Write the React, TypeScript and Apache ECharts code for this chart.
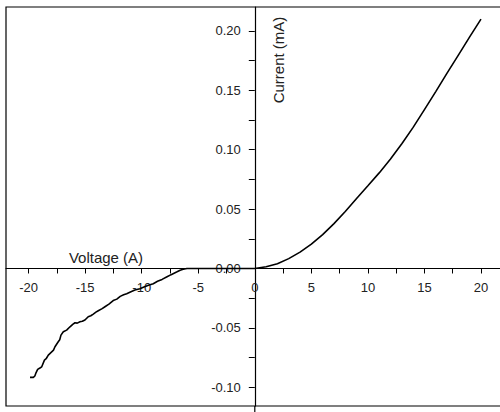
import React, { useEffect, useRef } from "react";
import * as echarts from "echarts";

// Voltage (V) vs current (mA), reverse branch (noisy)
const reverseBranch: [number, number][] = [
  [-19.88, -0.0917], [-19.58, -0.0917], [-19.45, -0.0905], [-19.37, -0.0884],
  [-19.2, -0.085], [-19.0, -0.0838], [-18.84, -0.0828], [-18.6, -0.0772],
  [-18.45, -0.076], [-18.26, -0.0729], [-17.96, -0.0702], [-17.8, -0.0688],
  [-17.67, -0.0659], [-17.38, -0.0617], [-17.25, -0.06], [-17.14, -0.0561],
  [-16.93, -0.0533], [-16.64, -0.0519], [-16.34, -0.0491], [-16.1, -0.047],
  [-15.9, -0.0457], [-15.7, -0.046], [-15.46, -0.0449], [-15.25, -0.0445],
  [-15.02, -0.0434], [-14.73, -0.0406], [-14.5, -0.0398], [-14.28, -0.0384],
  [-14.05, -0.0368], [-13.84, -0.0356], [-13.5, -0.0338], [-13.25, -0.0322],
  [-12.9, -0.03], [-12.52, -0.027], [-12.2, -0.0258], [-11.9, -0.0235],
  [-11.6, -0.0222], [-11.33, -0.0212], [-11.0, -0.0198], [-10.6, -0.0182],
  [-10.16, -0.017], [-9.8, -0.0155], [-9.4, -0.0142], [-8.98, -0.0128],
  [-8.6, -0.0108], [-8.2, -0.0092], [-7.8, -0.0072], [-7.4, -0.0052],
  [-6.92, -0.003], [-6.6, -0.0015], [-6.33, -0.0007], [-6.0, 0],
  [-5, 0], [-4, 0], [-3, 0], [-2, 0], [-1, 0],
];

// Forward branch
const forwardBranch: [number, number][] = [
  [0, 0], [1, 0.0015], [2, 0.004], [3, 0.0083], [4, 0.0138], [5, 0.0205],
  [6, 0.0285], [7, 0.0378], [8, 0.048], [9, 0.059], [10, 0.0697],
  [11, 0.0805], [12, 0.0922], [13, 0.105], [14, 0.1188], [15, 0.1338],
  [16, 0.149], [17, 0.1645], [18, 0.1797], [19, 0.195], [20, 0.21],
];

const xTickValues = [-20, -17.5, -15, -12.5, -10, -7.5, -5, -2.5, 0, 2.5, 5, 7.5, 10, 12.5, 15, 17.5, 20];
const xLabelValues = [-20, -15, -10, -5, 0, 5, 10, 15, 20];
const yTickValues = [-0.1, -0.075, -0.05, -0.025, 0, 0.025, 0.05, 0.075, 0.1, 0.125, 0.15, 0.175, 0.2];
const yLabelValues = [-0.1, -0.05, 0, 0.05, 0.1, 0.15, 0.2];

const xTitle = "Voltage (A)";
const yTitle = "Current (mA)";

const FONT = "'Liberation Sans', Arial, sans-serif";

const X_MIN = -22;
const X_MAX = 22;
const Y_MIN = -0.1158;
const Y_MAX = 0.2202;

export default function App() {
  const ref = useRef<HTMLDivElement>(null);
  useEffect(() => {
    if (!ref.current) return;
    const chart = echarts.init(ref.current, undefined, { renderer: "svg" });
    const data = [...reverseBranch, ...forwardBranch];
    const gLeft = 6;
    const gTop = 7;
    const gWidth = 497.6;
    const gHeight = 399;
    // position the axes on the zero lines through offsets
    const xZeroPx = gLeft + ((0 - X_MIN) / (X_MAX - X_MIN)) * gWidth;
    const yZeroFromBottom = ((0 - Y_MIN) / (Y_MAX - Y_MIN)) * gHeight;
    chart.setOption({
      animation: false,
      backgroundColor: "#fff",
      grid: {
        left: gLeft,
        top: gTop,
        width: gWidth,
        height: gHeight,
        show: true,
        borderColor: "#000",
        borderWidth: 1.2,
        backgroundColor: "#fff",
        containLabel: false,
        outerBoundsMode: "none",
      },
      xAxis: {
        type: "value",
        position: "bottom",
        min: X_MIN,
        max: X_MAX,
        offset: -yZeroFromBottom,
        axisLine: { onZero: false, lineStyle: { color: "#000", width: 1.2 } },
        axisTick: { show: true, length: 5, customValues: xTickValues, lineStyle: { color: "#000", width: 1 } },
        axisLabel: {
          customValues: xLabelValues,
          margin: 13,
          color: "#222",
          fontSize: 13,
          fontFamily: FONT,
        },
        splitLine: { show: false },
      },
      yAxis: {
        type: "value",
        position: "left",
        min: Y_MIN,
        max: Y_MAX,
        offset: -(xZeroPx - gLeft),
        axisLine: { onZero: false, lineStyle: { color: "#000", width: 1.2 } },
        axisTick: { show: true, length: 6, customValues: yTickValues, lineStyle: { color: "#000", width: 1 } },
        axisLabel: {
          customValues: yLabelValues,
          margin: 14,
          color: "#222",
          fontSize: 13,
          fontFamily: FONT,
          formatter: (v: number) => v.toFixed(2),
        },
        splitLine: { show: false },
      },
      graphic: [
        {
          type: "text",
          x: 106,
          y: 257,
          style: {
            text: xTitle,
            fill: "#222",
            font: `15px ${FONT}`,
            textAlign: "center",
            textVerticalAlign: "middle",
          },
        },
        {
          type: "text",
          x: 278,
          y: 60,
          rotation: Math.PI / 2,
          style: {
            text: yTitle,
            fill: "#222",
            font: `15px ${FONT}`,
            textAlign: "center",
            textVerticalAlign: "middle",
          },
        },
        {
          type: "line",
          shape: { x1: xZeroPx, y1: gTop + gHeight, x2: xZeroPx, y2: 412 },
          style: { stroke: "#000", lineWidth: 1.2 },
        },
      ],
      series: [
        {
          type: "line",
          data,
          showSymbol: false,
          symbol: "none",
          smooth: false,
          lineStyle: { color: "#000", width: 1.6 },
          z: 3,
        },
      ],
    });
    return () => chart.dispose();
  }, []);
  return (
    <div
      ref={ref}
      style={{ position: "absolute", left: 0, top: 0, width: 500, height: 412 }}
    />
  );
}
